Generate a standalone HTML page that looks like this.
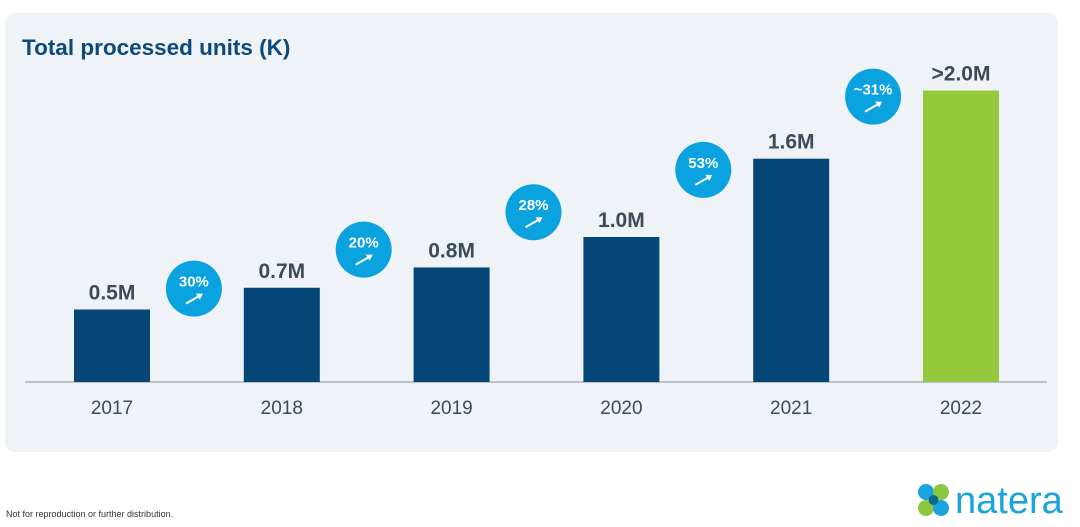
<!DOCTYPE html>
<html><head><meta charset="utf-8"><style>
html,body{margin:0;padding:0;background:#fff;width:1080px;height:527px;overflow:hidden;font-family:"Liberation Sans",sans-serif}
</style></head><body>
<svg id="chart" width="1080" height="527" xmlns="http://www.w3.org/2000/svg" style="position:absolute;left:0;top:0">
<rect x="5" y="13" width="1053" height="439" rx="10" fill="#eff3f7"/>
<text x="22" y="55" font-size="22.5" font-weight="bold" fill="#0b4a7a">Total processed units (K)</text>
<line x1="25" y1="382" x2="1047" y2="382" stroke="#8a9099" stroke-width="1"/>
<g id="bars"></g>
<g id="growth"></g>
<text x="6" y="517" font-size="9" fill="#333">Not for reproduction or further distribution.</text>
<g>
<circle cx="926" cy="492" r="8" fill="#1aa3dc"/><circle cx="941" cy="492" r="8" fill="#8dc63f"/>
<circle cx="926" cy="508" r="8" fill="#8dc63f"/><circle cx="941" cy="508" r="8" fill="#1aa3dc"/>
<circle cx="933.5" cy="500" r="5" fill="#0b6a8a"/>
<text x="955" y="513" font-size="38" fill="#1aa3dc">natera</text>
</g>
</svg>
<script>
const years=["2017","2018","2019","2020","2021","2022"];
const units=[0.5,0.65,0.79,1.0,1.54,2.01];
const valueLabels=["0.5M","0.7M","0.8M","1.0M","1.6M",">2.0M"];
const growthLabels=["30%","20%","28%","53%","~31%"];
const growthVals=[30,20,28,53,31];
const ns="http://www.w3.org/2000/svg";
const baseY=382, pxPerM=145, x0=74, step=169.8, bw=76;
const badgeDy=[-10,-28,-40,-28,-28];
const xPos=i=>x0+i*step;
const yPos=v=>baseY-v*pxPerM;
function mk(t,a,p){const e=document.createElementNS(ns,t);for(const k in a)e.setAttribute(k,a[k]);p.appendChild(e);return e;}
const bars=document.getElementById('bars');
years.forEach((y,i)=>{
  const r=mk('rect',{x:xPos(i),y:yPos(units[i]),width:bw,height:units[i]*pxPerM,fill:i===5?'#95c93d':'#044675'},bars);
  
  
  const v=mk('text',{x:xPos(i)+bw/2,y:yPos(units[i])-10,'text-anchor':'middle','font-size':21,'font-weight':'bold',fill:'#3d4a57'},bars);
  v.textContent=valueLabels[i];
  
  
  const l=mk('text',{x:xPos(i)+bw/2,y:414,'text-anchor':'middle','font-size':19,fill:'#3d4a57'},bars);
  l.textContent=y;
  
  
});
const g=document.getElementById('growth');
growthLabels.forEach((t,i)=>{
  const cx=(xPos(i)+bw+xPos(i+1))/2-3;
  const cy=(yPos(units[i])+yPos(units[i+1]))/2+badgeDy[i];
  const grp=mk('g',{},g);
  
  
  mk('circle',{cx:cx,cy:cy,r:28,fill:'#0aa2df'},grp);
  const tx=mk('text',{x:cx,y:cy-2,'text-anchor':'middle','font-size':15,'font-weight':'bold',fill:'#fff'},grp);
  tx.textContent=t;
  mk('line',{x1:cx-8,y1:cy+15,x2:cx+6,y2:cy+7,stroke:'#fff','stroke-width':2},grp);
  mk('polygon',{points:`${cx+9},${cy+5} ${cx+2},${cy+5} ${cx+6},${cy+11}`,fill:'#fff'},grp);
});
</script>
</body></html>
